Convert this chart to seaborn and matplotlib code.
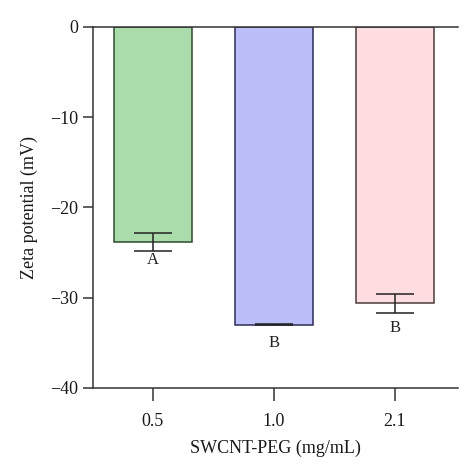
import numpy as np
import pandas as pd
import matplotlib
matplotlib.use("Agg")
import matplotlib.pyplot as plt
import seaborn as sns

# data
conc = ["0.5", "1.0", "2.1"]
zeta = [-23.8, -33.0, -30.6]
sd = [1.0, 0.08, 1.05]
letters = ["A", "B", "B"]
letter_y = [-25.8, -35.0, -33.4]

colors = ["#aadcab", "#bcbef9", "#fddde0"]
edges = ["#2d4a2f", "#2b2b58", "#4a3b3d"]

df = pd.DataFrame({"conc": conc, "zeta": zeta})

sns.set_style("ticks")
plt.rcParams['font.family'] = ['Liberation Serif', 'DejaVu Serif']

fig = plt.figure(figsize=(4.74, 4.73), dpi=100)
ax = fig.add_axes([0.196, 0.180, 0.770, 0.763])

sns.barplot(data=df, x="conc", y="zeta", hue="conc", palette=colors,
            order=conc, errorbar=None, width=0.65, legend=False,
            saturation=1, ax=ax)
for p, ec in zip(ax.patches, edges):
    p.set_edgecolor(ec)
    p.set_linewidth(1.1)

ax.errorbar(np.arange(len(conc)), zeta, yerr=sd, fmt="none", ecolor="#222222",
            elinewidth=1.1, capsize=14, capthick=1.1)
for i, (t, yy) in enumerate(zip(letters, letter_y)):
    ax.text(i, yy, t, ha="center", va="center", fontsize=12, color="#222222")

ax.set_ylim(-40, 0)
ax.set_xlim(-0.496, 2.52)
ax.set_yticks([0, -10, -20, -30, -40])
ax.set_yticklabels(["0", "\u221210", "\u221220", "\u221230", "\u221240"])
ax.set_xlabel("SWCNT-PEG (mg/mL)", fontsize=13, color="#1a1a1a", labelpad=7)
ax.set_ylabel("Zeta potential (mV)", fontsize=13, color="#1a1a1a", labelpad=9)
ax.tick_params(axis="both", labelsize=13, colors="#333333", length=7, width=1.1,
               labelcolor="#1a1a1a")
ax.tick_params(axis="x", length=9, pad=9)

ax.spines["right"].set_visible(False)
for s in ["left", "bottom", "top"]:
    ax.spines[s].set_color("#333333")
    ax.spines[s].set_linewidth(1.1)

fig.savefig("out.png", dpi=100)
